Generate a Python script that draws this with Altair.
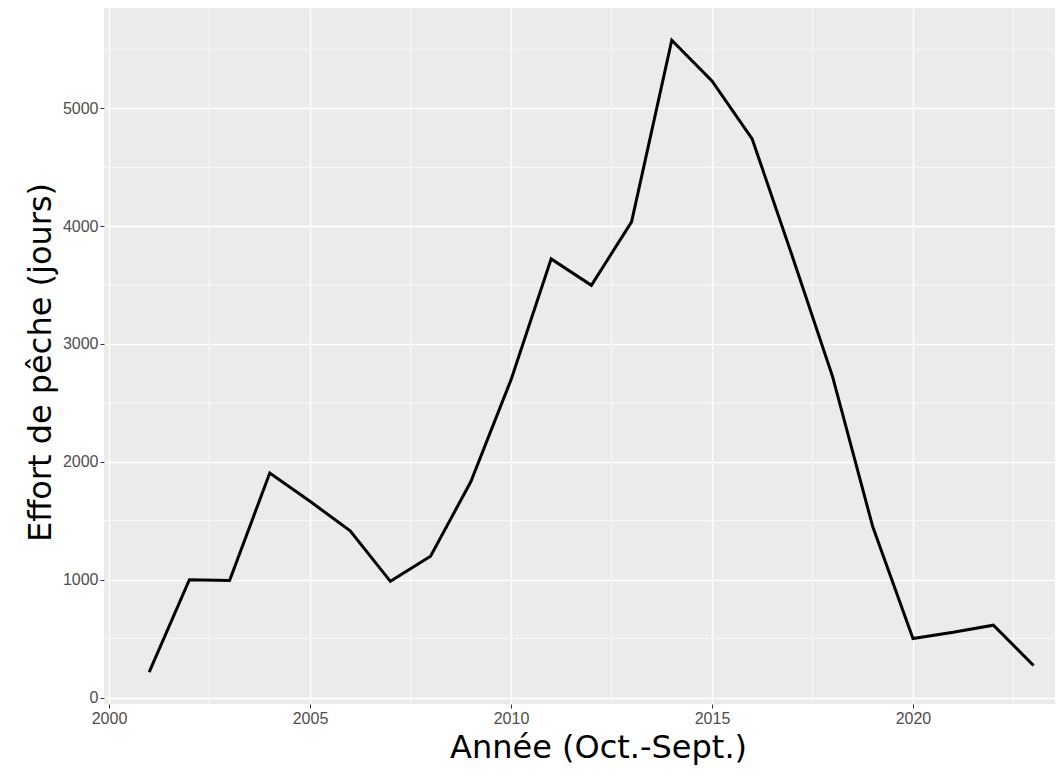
import altair as alt
import pandas as pd

years = [2001, 2002, 2003, 2004, 2005, 2006, 2007, 2008, 2009, 2010, 2011, 2012,
         2013, 2014, 2015, 2016, 2017, 2018, 2019, 2020, 2021, 2022, 2023]
effort = [215, 1000, 993, 1905, 1665, 1414, 986, 1199, 1831, 2695, 3722, 3498,
          4036, 5578, 5232, 4740, 3743, 2723, 1448, 500, 553, 614, 272]

x_ticks = [2000, 2005, 2010, 2015, 2020]
y_ticks = [0, 1000, 2000, 3000, 4000, 5000]
x_minor = [2002.5, 2007.5, 2012.5, 2017.5, 2022.5]
y_minor = [500, 1500, 2500, 3500, 4500, 5500]

x_domain = [1999.876, 2023.533]
y_domain = [-55, 5851]

df = pd.DataFrame({"year": years, "effort": effort})
xs = alt.Scale(domain=x_domain, nice=False, zero=False)
ys = alt.Scale(domain=y_domain, nice=False, zero=False)

minor_x = alt.Chart(pd.DataFrame({"v": x_minor})).mark_rule(
    color="white", strokeWidth=0.7
).encode(x=alt.X("v:Q", scale=xs))

minor_y = alt.Chart(pd.DataFrame({"v": y_minor})).mark_rule(
    color="white", strokeWidth=0.7
).encode(y=alt.Y("v:Q", scale=ys))

line = alt.Chart(df).mark_line(color="black", strokeWidth=3, clip=True).encode(
    x=alt.X(
        "year:Q",
        scale=xs,
        axis=alt.Axis(
            values=x_ticks,
            format="d",
            title="Année (Oct.-Sept.)",
            titleX=494,
            titleY=53,
            titleAlign="center",
            titleBaseline="alphabetic",
        ),
    ),
    y=alt.Y(
        "effort:Q",
        scale=ys,
        axis=alt.Axis(
            values=y_ticks,
            format="d",
            title="Effort de pêche (jours)",
            titleX=-64,
            titleY=354,
            titleAngle=-90,
            titleAlign="center",
            titleBaseline="middle",
        ),
    ),
)

chart = (
    alt.layer(minor_x, minor_y, line)
    .properties(
        width=951,
        height=696,
        autosize=alt.AutoSizeParams(type="none"),
        padding={"left": 96, "top": 0, "right": 0, "bottom": 65},
    )
    .configure_view(fill="#EBEBEB", strokeWidth=0)
    .configure_axis(
        domain=False,
        grid=True,
        gridColor="white",
        gridWidth=1.4,
        tickColor="#333333",
        tickSize=4,
        tickWidth=1,
        labelFont="Liberation Sans",
        labelFontSize=16,
        labelColor="#4D4D4D",
        labelPadding=2,
        titleFont="DejaVu Sans",
        titleFontSize=32,
        titleFontWeight="normal",
        titleColor="black",
    )
)

chart.save("out.html", embed_options={"renderer": "svg", "actions": False})
